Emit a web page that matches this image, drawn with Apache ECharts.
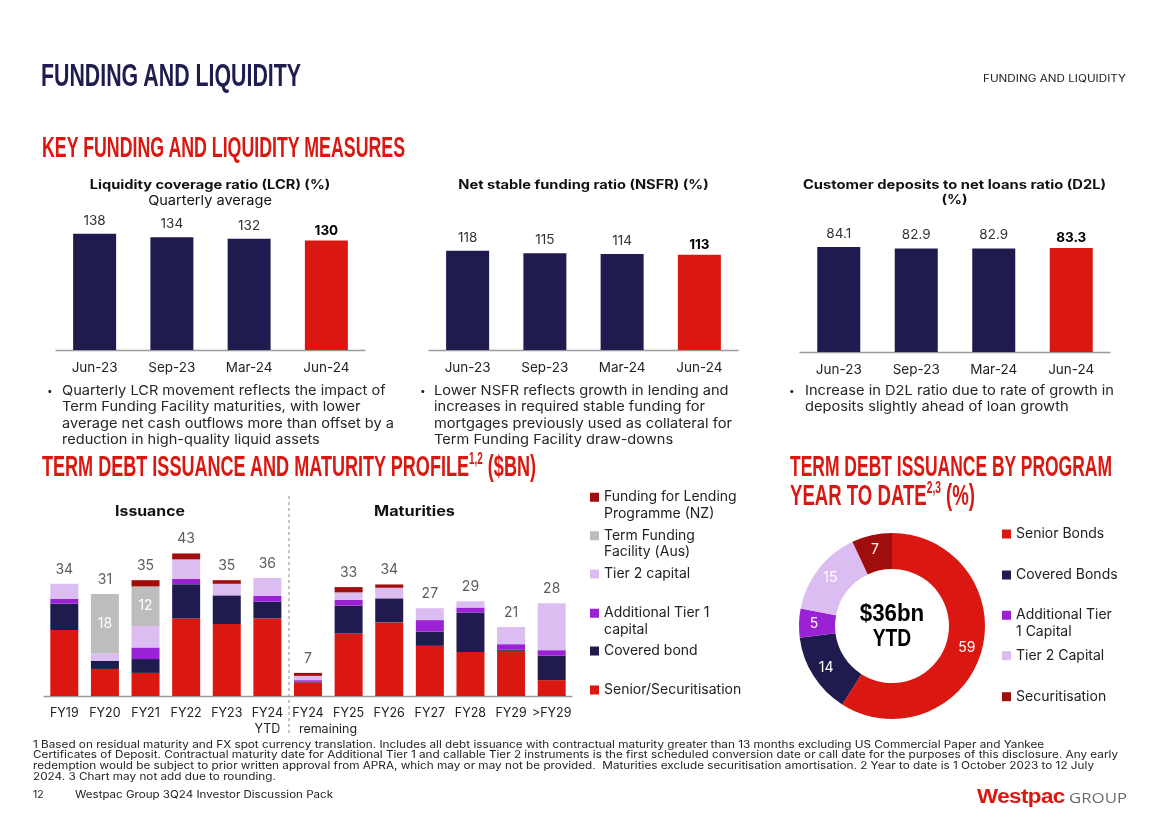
<!DOCTYPE html>
<html><head><meta charset="utf-8">
<script src="https://cdn.jsdelivr.net/npm/echarts/dist/echarts.min.js"></script>
<style>
html,body{margin:0;padding:0;background:#fff;}
#wrap{position:relative;width:1168px;height:825px;overflow:hidden;}
#chart{position:absolute;left:0;top:0;width:1168px;height:825px;}
.t{position:absolute;white-space:nowrap;font-family:'Inter','Open Sans',sans-serif;color:#262626;pointer-events:none;}
.hd{font-family:'Liberation Sans Narrow','Liberation Sans','DejaVu Sans Condensed',sans-serif;font-weight:bold;line-height:1;transform-origin:0 50%;}
.hd sup{font-size:55%;vertical-align:0;position:relative;top:-0.75em;}
.fit{transform-origin:0 0;}
.bt{font-size:13.5px;line-height:16.5px;}
.fn{font-size:10.5px;line-height:10.8px;color:#222;}
</style></head>
<body><div id="wrap">
<div id="chart"></div>
<div class="t hd" data-w="260" style="left:41px;top:59.5px;font-size:31px;color:#1F1C4F">FUNDING AND LIQUIDITY</div>
<div class="t fit" data-w="143" style="left:983px;top:71px;font-size:10px;line-height:14px;color:#222"><span class="ln">FUNDING AND LIQUIDITY</span></div>
<div class="t hd" data-w="363" style="left:42px;top:132.5px;font-size:29px;color:#DA1710">KEY FUNDING AND LIQUIDITY MEASURES</div>
<div class="t bt" style="left:47px;top:381.75px;font-size:10px">•</div>
<div class="t bt fit" data-w="332" style="left:62px;top:381.75px"><span class="ln">Quarterly LCR movement reflects the impact of</span><br><span class="ln">Term Funding Facility maturities, with lower</span><br><span class="ln">average net cash outflows more than offset by a</span><br><span class="ln">reduction in high-quality liquid assets</span></div>
<div class="t bt" style="left:420px;top:381.75px;font-size:10px">•</div>
<div class="t bt fit" data-w="298" style="left:434px;top:381.75px"><span class="ln">Lower NSFR reflects growth in lending and</span><br><span class="ln">increases in required stable funding for</span><br><span class="ln">mortgages previously used as collateral for</span><br><span class="ln">Term Funding Facility draw-downs</span></div>
<div class="t bt" style="left:789px;top:381.75px;font-size:10px">•</div>
<div class="t bt fit" data-w="309" style="left:805px;top:381.75px"><span class="ln">Increase in D2L ratio due to rate of growth in</span><br><span class="ln">deposits slightly ahead of loan growth</span></div>
<div class="t hd" data-w="494" style="left:42px;top:451.5px;font-size:29px;color:#DA1710">TERM DEBT ISSUANCE AND MATURITY PROFILE<sup>1,2</sup> ($BN)</div>
<div class="t hd" data-w="322" style="left:790px;top:451.5px;font-size:29px;color:#DA1710">TERM DEBT ISSUANCE BY PROGRAM</div>
<div class="t hd" data-w="185" style="left:790px;top:480.5px;font-size:29px;color:#DA1710">YEAR TO DATE<sup>2,3</sup> (%)</div>
<div class="t fn fit" data-w="1085" style="left:33px;top:739.6px"><span class="ln">1 Based on residual maturity and FX spot currency translation. Includes all debt issuance with contractual maturity greater than 13 months excluding US Commercial Paper and Yankee</span><br><span class="ln">Certificates of Deposit. Contractual maturity date for Additional Tier 1 and callable Tier 2 instruments is the first scheduled conversion date or call date for the purposes of this disclosure. Any early</span><br><span class="ln">redemption would be subject to prior written approval from APRA, which may or may not be provided.&nbsp; Maturities exclude securitisation amortisation. 2 Year to date is 1 October 2023 to 12 July</span><br><span class="ln">2024. 3 Chart may not add due to rounding.</span></div>
<div class="t fn" style="left:33px;top:789.6px">12</div>
<div class="t fn fit" data-w="258" style="left:75px;top:789.6px"><span class="ln">Westpac Group 3Q24 Investor Discussion Pack</span></div>
<div class="t hd" data-w="150" style="left:977px;top:786px;font-size:20px;"><span style="color:#DA1710;font-family:'Liberation Sans','Open Sans',sans-serif;font-weight:bold;letter-spacing:-0.5px">Westpac</span><span style="color:#6b6b6b;font-family:'Open Sans',sans-serif;font-weight:normal;font-size:15px"> GROUP</span></div>
</div>
<script>
// ---------- data ----------
const quarters = ['Jun-23', 'Sep-23', 'Mar-24', 'Jun-24'];
const lcrValues = [138, 134, 132, 130];
const nsfrValues = [118, 115, 114, 113];
const d2lValues = [84.1, 82.9, 82.9, 83.3];

const debtCategories = ['FY19', 'FY20', 'FY21', 'FY22', 'FY23', 'FY24\nYTD', 'FY24\nremaining', 'FY25', 'FY26', 'FY27', 'FY28', 'FY29', '>FY29'];
const seniorSecuritisation = [20.0, 8.2, 7.0, 23.5, 21.8, 23.5, 4.1, 18.9, 22.3, 15.2, 13.3, 13.7, 4.8];
const coveredBond = [8.0, 2.4, 4.2, 10.4, 8.7, 5.1, 0.3, 8.5, 7.3, 4.3, 12.0, 0.4, 7.4];
const additionalTier1 = [1.5, 0, 3.5, 1.6, 0, 1.7, 0.4, 1.7, 0, 3.5, 1.5, 1.6, 1.7];
const tier2Capital = [4.5, 2.3, 6.5, 5.9, 3.5, 5.5, 1.3, 2.3, 3.2, 3.6, 1.9, 5.2, 14.2];
const termFundingFacility = [0, 18, 12, 0, 0, 0, 0, 0, 0, 0, 0, 0, 0];
const fundingForLending = [0, 0, 1.9, 1.8, 1.1, 0, 0.9, 1.6, 1.0, 0, 0, 0, 0];
const debtTotals = [34, 31, 35, 43, 35, 36, 7, 33, 34, 27, 29, 21, 28];

const programNames = ['Senior Bonds', 'Covered Bonds', 'Additional Tier 1 Capital', 'Tier 2 Capital', 'Securitisation'];
const programShares = [59, 14, 5, 15, 7];
const programCentre = ['$36bn', 'YTD'];

// ---------- styling ----------
const FONT = "'Inter','Open Sans',sans-serif";
const NAVY = '#1F1B4E', RED = '#DA1710', PURPLE = '#9A22D4', LAV = '#DCBDF1', GREY = '#BDBDBD', DKRED = '#A00D0D';
const programColors = [RED, NAVY, PURPLE, LAV, DKRED];

const chart = echarts.init(document.getElementById('chart'));

const ratioGrids = [
  {left: 56, top: 190, width: 309, height: 160, max: 190},
  {left: 429, top: 190, width: 309, height: 160, max: 190},
  {left: 800, top: 192, width: 310, height: 160, max: 128}
];
const grids = ratioGrids.map(g => ({left: g.left, top: g.top, width: g.width, height: g.height}));
grids.push({left: 44, top: 531, width: 528, height: 165});

const xAxes = ratioGrids.map((g, i) => ({
  type: 'category', gridIndex: i, data: quarters,
  axisLine: {lineStyle: {color: '#9a9a9a', width: 1.3}}, axisTick: {show: false},
  axisLabel: {fontSize: 13.5, color: '#222', margin: 11, fontFamily: FONT}
}));
xAxes.push({
  type: 'category', gridIndex: 3, data: debtCategories,
  axisLine: {lineStyle: {color: '#9a9a9a', width: 1.3}}, axisTick: {show: false},
  axisLabel: {fontSize: 12.5, color: '#222', margin: 9, lineHeight: 16, interval: 0, fontFamily: FONT,
    formatter: v => v === 'FY24\nremaining' ? 'FY24\n{r|remaining}' : v,
    rich: {r: {fontSize: 12.5, color: '#222', fontFamily: FONT, lineHeight: 16, padding: [0, 0, 0, 40]}}}
});
const yAxes = ratioGrids.map((g, i) => ({type: 'value', gridIndex: i, min: 0, max: g.max, show: false}));
yAxes.push({type: 'value', gridIndex: 3, min: 0, max: 50, show: false});

function ratioSeries(values, idx) {
  const last = values.length - 1;
  return {
    type: 'bar', xAxisIndex: idx, yAxisIndex: idx, barWidth: 43,
    data: values.map((v, i) => ({
      value: v,
      itemStyle: {color: i === last ? RED : NAVY},
      label: i === last ? {fontWeight: 'bold', color: '#000', distance: 3} : {fontWeight: 'normal', color: '#333', distance: 6}
    })),
    label: {show: true, position: 'top', fontSize: 13.5, fontFamily: FONT}
  };
}

function stackSeries(name, data, color, showLabel) {
  return {
    name: name, type: 'bar', stack: 'debt', xAxisIndex: 3, yAxisIndex: 3, barWidth: 28,
    itemStyle: {color: color}, data: data,
    label: {show: !!showLabel, position: 'inside', color: '#fff', fontSize: 14, fontFamily: FONT,
      formatter: p => (p.value > 0 ? Math.round(p.value) : '')}
  };
}

const stackSums = debtCategories.map((c, i) =>
  seniorSecuritisation[i] + coveredBond[i] + additionalTier1[i] + tier2Capital[i] + termFundingFacility[i] + fundingForLending[i]);

const legendLayout = [
  {name: 'Funding for Lending Programme (NZ)', text: 'Funding for Lending\nProgramme (NZ)', x: 590, y: 497, two: true},
  {name: 'Term Funding Facility (Aus)', text: 'Term Funding\nFacility (Aus)', x: 590, y: 535.5, two: true},
  {name: 'Tier 2 capital', text: 'Tier 2 capital', x: 590, y: 574, two: false},
  {name: 'Additional Tier 1 capital', text: 'Additional Tier 1\ncapital', x: 590, y: 613, two: true},
  {name: 'Covered bond', text: 'Covered bond', x: 590, y: 651, two: false},
  {name: 'Senior/Securitisation', text: 'Senior/Securitisation', x: 590, y: 690, two: false},
  {name: 'Senior Bonds', text: 'Senior Bonds', x: 1002, y: 534, two: false},
  {name: 'Covered Bonds', text: 'Covered Bonds', x: 1002, y: 575, two: false},
  {name: 'Additional Tier 1 Capital', text: 'Additional Tier\n1 Capital', x: 1002, y: 615, two: true},
  {name: 'Tier 2 Capital', text: 'Tier 2 Capital', x: 1002, y: 655.7, two: false},
  {name: 'Securitisation', text: 'Securitisation', x: 1002, y: 696.7, two: false}
];
const LH = 16.5;
// two-line entries: a taller icon box whose visible square sits at the top, so it lines up with the first line
const TALL_ICON = 'path://M0,0H9V9H0Z M0,24.9H0.1V25H0Z';
const legends = legendLayout.map(l => ({
  data: [l.name], left: l.x, top: l.y - 8.25,
  orient: 'vertical', padding: 0, itemWidth: 9, itemHeight: l.two ? 25 : 9,
  icon: l.two ? TALL_ICON : 'rect',
  formatter: () => l.text,
  textStyle: {fontSize: 14, color: '#222', fontFamily: FONT, lineHeight: LH}
}));

function headText(text, x, y, size, weight, sx) {
  return {type: 'text', x: x, y: y, scaleX: sx, silent: true,
    style: {text: text, font: weight + ' ' + size + "px 'Inter','Open Sans',sans-serif", fill: '#111', align: 'center', verticalAlign: 'middle'}};
}

const option = {
  animation: false,
  legend: legends,
  grid: grids,
  xAxis: xAxes,
  yAxis: yAxes,
  series: [
    ratioSeries(lcrValues, 0),
    ratioSeries(nsfrValues, 1),
    ratioSeries(d2lValues, 2),
    stackSeries('Senior/Securitisation', seniorSecuritisation, RED),
    stackSeries('Covered bond', coveredBond, NAVY),
    stackSeries('Additional Tier 1 capital', additionalTier1, PURPLE),
    stackSeries('Tier 2 capital', tier2Capital, LAV),
    stackSeries('Term Funding Facility (Aus)', termFundingFacility, GREY, true),
    stackSeries('Funding for Lending Programme (NZ)', fundingForLending, DKRED),
    {
      type: 'scatter', xAxisIndex: 3, yAxisIndex: 3, symbolSize: 1, itemStyle: {color: 'rgba(0,0,0,0)'},
      data: stackSums, silent: true,
      label: {show: true, position: 'top', distance: 7, fontSize: 14, color: '#333', fontFamily: FONT,
        formatter: p => debtTotals[p.dataIndex]}
    },
    {
      type: 'pie', center: [892, 626], radius: [57, 93], startAngle: 90, avoidLabelOverlap: false,
      data: programNames.map((n, i) => ({name: n, value: programShares[i], itemStyle: {color: programColors[i]}})),
      label: {show: true, position: 'inside', color: '#fff', fontSize: 14, fontFamily: FONT, formatter: '{c}'},
      labelLine: {show: false}
    }
  ],
  graphic: [
    headText('Liquidity coverage ratio (LCR) (%)', 210, 185, 12.5, 'bold', 1.17),
    headText('Quarterly average', 210, 201.5, 13, 'normal', 1.12),
    headText('Net stable funding ratio (NSFR) (%)', 583.5, 185, 12.5, 'bold', 1.17),
    headText('Customer deposits to net loans ratio (D2L)', 954.5, 185, 12.5, 'bold', 1.18),
    headText('(%)', 954.5, 200.5, 12.5, 'bold', 1.18),
    headText('Issuance', 150, 512, 14, 'bold', 1.13),
    headText('Maturities', 414.5, 512, 14, 'bold', 1.16),
    {type: 'line', shape: {x1: 289, y1: 496, x2: 289, y2: 733}, style: {stroke: '#8c8c8c', lineWidth: 1, lineDash: [3, 3]}},
    {type: 'text', x: 892, y: 614, scaleX: 0.93, style: {text: programCentre[0], font: "bold 24px 'Liberation Sans Narrow','Liberation Sans',sans-serif", fill: '#000', align: 'center', verticalAlign: 'middle'}},
    {type: 'text', x: 892, y: 639, scaleX: 0.8, style: {text: programCentre[1], font: "bold 24px 'Liberation Sans Narrow','Liberation Sans',sans-serif", fill: '#000', align: 'center', verticalAlign: 'middle'}}
  ]
};
chart.setOption(option);

function fitText() {
  document.querySelectorAll('.hd').forEach(el => {
    el.style.transform = 'none';
    const w = el.getBoundingClientRect().width;
    el.style.transform = 'scaleX(' + (parseFloat(el.dataset.w) / w) + ')';
  });
  document.querySelectorAll('.fit').forEach(el => {
    el.style.transform = 'none';
    let bw = 0;
    el.querySelectorAll('.ln').forEach(s => { bw = Math.max(bw, s.getBoundingClientRect().width); });
    if (bw > 0) el.style.transform = 'scaleX(' + (parseFloat(el.dataset.w) / bw) + ')';
  });
}
fitText();
if (document.fonts && document.fonts.ready) document.fonts.ready.then(fitText);
</script>
</body></html>
